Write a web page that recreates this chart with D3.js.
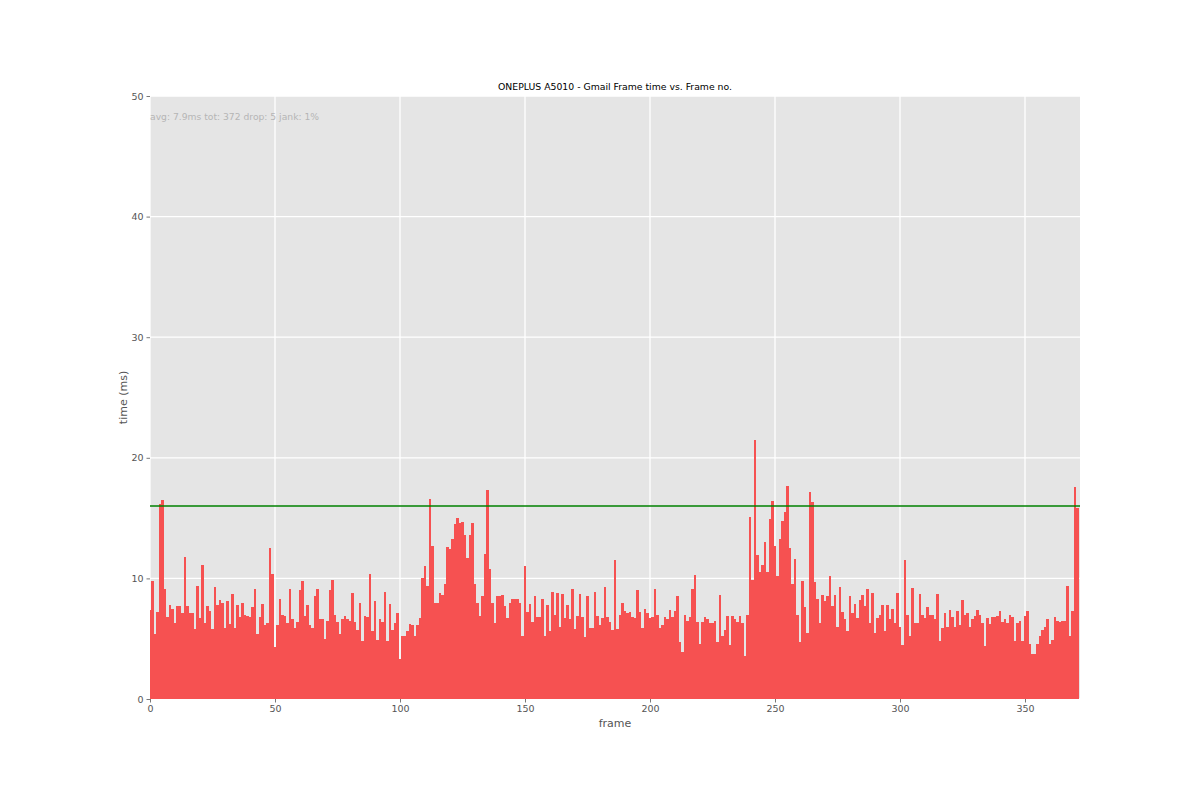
<!DOCTYPE html>
<html>
<head>
<meta charset="utf-8">
<script src="https://cdn.jsdelivr.net/npm/d3@7/dist/d3.min.js"></script>
<style>
  html, body { margin: 0; padding: 0; background: #ffffff; }
  svg { display: block; font-family: "DejaVu Sans", sans-serif; }
</style>
</head>
<body>
<svg id="chart" width="1200" height="800"></svg>
<script>
// ---- data ----
const frameTimes = [
  7.4, 9.8, 5.4, 7.2, 16.2, 16.5, 9.1, 6.8, 7.8, 7.5,
  6.3, 7.7, 7.7, 7.1, 11.8, 7.7, 7.1, 7.1, 5.8, 9.4,
  6.7, 11.1, 6.3, 7.7, 7.3, 5.8, 9.3, 7.8, 8.2, 8.0,
  5.9, 8.1, 6.2, 8.7, 5.9, 7.8, 6.8, 8.0, 7.0, 6.9,
  6.8, 7.6, 9.1, 5.4, 6.8, 7.9, 6.1, 6.3, 12.5, 10.4,
  4.3, 6.1, 8.3, 7.0, 6.9, 6.3, 9.1, 6.6, 5.9, 6.4,
  9.0, 9.8, 6.9, 7.8, 6.1, 5.9, 8.5, 9.1, 6.6, 6.6,
  5.0, 6.5, 9.0, 9.9, 7.0, 6.4, 5.4, 6.6, 6.9, 6.6,
  6.5, 8.8, 6.4, 5.7, 8.0, 4.8, 6.9, 6.8, 10.4, 5.6,
  8.1, 4.9, 6.6, 6.4, 8.9, 4.8, 7.9, 5.7, 6.3, 7.1,
  3.3, 5.2, 5.2, 5.6, 6.2, 6.1, 5.2, 6.1, 6.7, 10.0,
  11.0, 9.4, 16.6, 12.7, 8.0, 8.0, 8.8, 8.6, 9.5, 12.6,
  12.4, 13.3, 14.5, 15.0, 14.6, 14.7, 13.6, 11.7, 13.6, 14.6,
  9.5, 8.0, 6.9, 8.5, 12.0, 17.3, 10.8, 8.0, 6.3, 8.5,
  8.5, 8.6, 7.7, 6.7, 8.0, 8.3, 8.3, 8.3, 8.0, 5.2,
  11.0, 7.2, 7.9, 6.4, 8.5, 6.8, 6.8, 8.3, 5.2, 7.8,
  5.6, 8.9, 7.0, 8.8, 6.0, 8.7, 6.7, 7.8, 6.6, 9.1,
  5.8, 6.9, 8.7, 6.8, 5.1, 8.5, 5.9, 5.9, 8.9, 6.9,
  6.1, 6.7, 9.3, 6.8, 6.4, 5.7, 11.5, 5.8, 7.0, 8.0,
  7.3, 7.1, 7.2, 6.8, 6.7, 9.0, 7.2, 5.9, 7.5, 7.1,
  6.7, 6.8, 9.1, 7.0, 5.9, 6.1, 6.8, 6.6, 7.4, 6.8,
  7.3, 8.5, 4.7, 3.9, 7.0, 6.5, 6.8, 9.1, 10.3, 6.4,
  4.6, 6.4, 6.8, 6.6, 6.3, 6.3, 6.5, 4.7, 8.6, 5.2,
  5.7, 6.9, 4.5, 6.9, 6.6, 6.4, 6.9, 6.3, 3.6, 7.0,
  15.1, 9.9, 21.5, 11.9, 10.5, 11.1, 13.0, 10.5, 14.9, 16.4,
  12.7, 10.2, 13.3, 14.8, 15.5, 17.7, 12.5, 9.5, 11.6, 7.0,
  4.7, 9.8, 7.6, 5.5, 17.2, 16.3, 9.7, 8.3, 6.3, 8.6,
  8.1, 8.5, 10.2, 7.7, 8.6, 6.0, 9.3, 7.2, 6.6, 5.6,
  8.5, 7.1, 7.9, 6.7, 8.2, 8.6, 7.7, 9.1, 6.3, 8.8,
  5.5, 6.7, 7.0, 7.8, 5.6, 7.8, 6.6, 7.5, 6.3, 8.8,
  6.0, 4.5, 11.5, 7.0, 5.2, 9.2, 6.3, 6.3, 8.7, 7.0,
  6.7, 7.6, 7.0, 7.0, 6.6, 8.7, 4.8, 5.9, 7.1, 6.0,
  7.4, 6.8, 6.0, 7.3, 6.1, 8.2, 7.0, 7.1, 6.0, 6.6,
  6.9, 7.4, 7.0, 6.3, 4.4, 6.7, 6.2, 6.8, 6.8, 6.9,
  7.3, 6.4, 6.6, 6.3, 7.0, 6.8, 4.8, 6.3, 6.5, 4.8,
  6.9, 7.3, 4.6, 3.7, 3.7, 4.6, 5.2, 5.7, 6.0, 6.6,
  4.6, 4.9, 6.8, 6.5, 6.4, 6.5, 6.5, 9.4, 5.2, 7.3,
  17.6, 15.8
];
const xTicks = [0, 50, 100, 150, 200, 250, 300, 350];
const yTicks = [0, 10, 20, 30, 40, 50];
const targetFrameTime = 16;
const titleText = "ONEPLUS A5010 - Gmail Frame time vs. Frame no.";
const statsText = "avg: 7.9ms tot: 372 drop: 5 jank: 1%";
const xLabel = "frame";
const yLabel = "time (ms)";

// ---- layout ----
const W = 1200, H = 800;
const m = { left: 150, right: 1080, top: 96, bottom: 699 };

const svg = d3.select("#chart");
svg.append("rect").attr("width", W).attr("height", H).attr("fill", "#ffffff");

const x = d3.scaleLinear().domain([0, frameTimes.length]).range([m.left, m.right]);
const y = d3.scaleLinear().domain([0, 50]).range([m.bottom, m.top]);

// plot background
svg.append("rect")
  .attr("x", m.left).attr("y", m.top)
  .attr("width", m.right - m.left).attr("height", m.bottom - m.top)
  .attr("fill", "#e5e5e5");

svg.append("clipPath").attr("id", "plotclip")
  .append("rect")
  .attr("x", m.left).attr("y", m.top)
  .attr("width", m.right - m.left).attr("height", m.bottom - m.top);

// grid
const grid = svg.append("g");
grid.selectAll("line.vx").data(xTicks).join("line")
  .attr("x1", d => x(d)).attr("x2", d => x(d))
  .attr("y1", m.top).attr("y2", m.bottom)
  .attr("stroke", "#ffffff").attr("stroke-width", 1.3);
grid.selectAll("line.hy").data(yTicks).join("line")
  .attr("x1", m.left).attr("x2", m.right)
  .attr("y1", d => y(d)).attr("y2", d => y(d))
  .attr("stroke", "#ffffff").attr("stroke-width", 1.3);

// bars (centered on frame index, width 1)
svg.append("g").attr("clip-path", "url(#plotclip)")
  .selectAll("rect").data(frameTimes).join("rect")
  .attr("x", (d, i) => x(i - 0.5))
  .attr("width", (d, i) => x(i + 0.5) - x(i - 0.5))
  .attr("y", d => y(d))
  .attr("height", d => y(0) - y(d))
  .attr("fill", "#f65151")
  .attr("shape-rendering", "crispEdges");

// target line
svg.append("line")
  .attr("x1", m.left).attr("x2", m.right)
  .attr("y1", y(targetFrameTime)).attr("y2", y(targetFrameTime))
  .attr("stroke", "#008000").attr("stroke-width", 1.5);

// axes
const xAxis = d3.axisBottom(x).tickValues(xTicks).tickSize(3.5).tickPadding(3).tickFormat(d3.format("d"));
const yAxis = d3.axisLeft(y).tickValues(yTicks).tickSize(3.5).tickPadding(3).tickFormat(d3.format("d"));

const gx = svg.append("g").attr("transform", `translate(0,${m.bottom})`).call(xAxis);
const gy = svg.append("g").attr("transform", `translate(${m.left},0)`).call(yAxis);
[gx, gy].forEach(g => {
  g.select(".domain").remove();
  g.selectAll(".tick line").attr("stroke", "#555555").attr("stroke-width", 0.8);
  g.selectAll(".tick text").attr("fill", "#555555")
    .style("font-family", "'DejaVu Sans', sans-serif").style("font-size", "9.5px");
});

// labels
svg.append("text").attr("x", (m.left + m.right) / 2).attr("y", 727)
  .attr("text-anchor", "middle").attr("fill", "#555555")
  .style("font-size", "11px").text(xLabel);
svg.append("text")
  .attr("transform", `translate(127,${(m.top + m.bottom) / 2}) rotate(-90)`)
  .attr("text-anchor", "middle").attr("fill", "#555555")
  .style("font-size", "11px").text(yLabel);

svg.append("text").attr("x", (m.left + m.right) / 2).attr("y", 90)
  .attr("text-anchor", "middle").attr("fill", "#000000")
  .style("font-size", "9.3px").text(titleText);

svg.append("text").attr("x", m.left).attr("y", 120)
  .attr("fill", "#b5b5b5")
  .style("font-size", "9.2px").text(statsText);
</script>
</body>
</html>
